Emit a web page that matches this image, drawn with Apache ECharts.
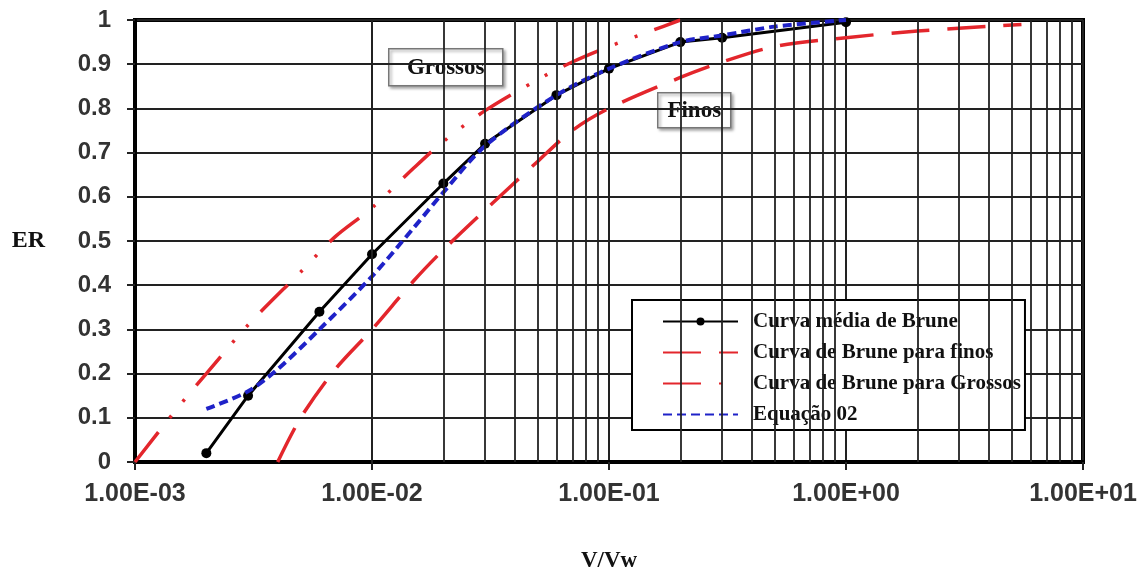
<!DOCTYPE html>
<html>
<head>
<meta charset="utf-8">
<script src="https://cdn.jsdelivr.net/npm/echarts@6/dist/echarts.min.js"></script>
<style>
  html, body { margin: 0; padding: 0; background: #fff; }
  #main { width: 1147px; height: 578px; }
</style>
</head>
<body>
<div id="main"></div>
<script>
// Curva média de Brune
const mediaX = [0.002, 0.003, 0.006, 0.01, 0.02, 0.03, 0.06, 0.1, 0.2, 0.3, 1];
const mediaY = [0.02, 0.15, 0.34, 0.47, 0.63, 0.72, 0.83, 0.89, 0.95, 0.96, 0.995];

// Curva de Brune para finos
const finosX = [0.004, 0.005, 0.007, 0.01, 0.015, 0.02, 0.03, 0.05, 0.07, 0.1, 0.2, 0.3, 0.5, 1, 2, 5.5];
const finosY = [0, 0.1, 0.21, 0.3, 0.41, 0.48, 0.57, 0.68, 0.75, 0.8, 0.87, 0.905, 0.94, 0.96, 0.975, 0.99];

// Curva de Brune para Grossos
const grossosX = [0.001, 0.0015, 0.002, 0.003, 0.005, 0.007, 0.01, 0.015, 0.02, 0.03, 0.05, 0.07, 0.1, 0.15, 0.2];
const grossosY = [0, 0.12, 0.2, 0.31, 0.43, 0.51, 0.575, 0.665, 0.725, 0.795, 0.865, 0.905, 0.94, 0.975, 1.0];

// Equação 02
const equacaoX = [0.002, 0.003, 0.004, 0.006, 0.01, 0.015, 0.02, 0.03, 0.06, 0.1, 0.2, 0.3, 0.5, 1];
const equacaoY = [0.12, 0.16, 0.21, 0.3, 0.42, 0.53, 0.61, 0.715, 0.83, 0.89, 0.95, 0.965, 0.985, 1.0];

const xMin = 0.001, xMax = 10;

function pairs(xs, ys) {
  return xs.map((x, i) => [x, ys[i]]);
}

// linhas verticais secundarias (2..9 em cada decada)
const minorLines = [];
for (let d = xMin; d < xMax; d *= 10) {
  for (let k = 2; k <= 9; k++) minorLines.push({ xAxis: +(d * k).toPrecision(3) });
}

function sciLabel(v) {
  const e = Math.round(Math.log10(v));
  const m = (v / Math.pow(10, e)).toFixed(2);
  return m + 'E' + (e < 0 ? '-' : '+') + String(Math.abs(e)).padStart(2, '0');
}

const serif = '"Liberation Serif", "DejaVu Serif", serif';
const sans = '"Liberation Sans", Arial, sans-serif';
const red = '#e3262c';
const blue = '#1f22c8';

const myChart = echarts.init(document.getElementById('main'));
const option = {
  animation: false,
  backgroundColor: '#fff',
  grid: {
    left: 135, right: 64, top: 20, bottom: 113,
    show: true, borderColor: '#000', borderWidth: 4, backgroundColor: '#fff'
  },
  legend: {
    data: [
      { name: 'Curva média de Brune' },
      { name: 'Curva de Brune para finos', itemStyle: { opacity: 0 } },
      { name: 'Curva de Brune para Grossos', itemStyle: { opacity: 0 } },
      { name: 'Equação 02', itemStyle: { opacity: 0 } }
    ],
    orient: 'vertical',
    left: 632, top: 300,
    itemWidth: 75, itemHeight: 10, itemGap: 10,
    padding: [11, 4, 5, 30],
    backgroundColor: '#fff',
    borderColor: '#000', borderWidth: 2, borderRadius: 0,
    textStyle: {
      fontFamily: serif, fontWeight: 'bold', fontSize: 21, lineHeight: 21,
      color: '#111', padding: [0, 0, 0, 10]
    }
  },
  xAxis: {
    type: 'log', logBase: 10, min: xMin, max: xMax,
    name: 'V/Vw', nameLocation: 'middle', nameGap: 88,
    nameTextStyle: { fontFamily: serif, fontWeight: 'bold', fontSize: 23, color: '#111' },
    axisLine: { show: true, lineStyle: { color: '#000', width: 4 } },
    axisTick: { show: true, length: 8, lineStyle: { color: '#222', width: 2 } },
    axisLabel: {
      formatter: sciLabel, margin: 20,
      fontFamily: sans, fontWeight: 'bold', fontSize: 25, color: '#333'
    },
    splitLine: { show: true, lineStyle: { color: '#222', width: 2 } }
  },
  yAxis: {
    type: 'value', min: 0, max: 1, interval: 0.1,
    name: 'ER', nameLocation: 'middle', nameRotate: 0, nameGap: 90,
    nameTextStyle: { fontFamily: serif, fontWeight: 'bold', fontSize: 24, color: '#111' },
    axisLine: { show: true, lineStyle: { color: '#000', width: 4 } },
    axisTick: { show: true, length: 8, lineStyle: { color: '#222', width: 2 } },
    axisLabel: {
      margin: 24,
      fontFamily: sans, fontWeight: 'bold', fontSize: 24, color: '#333'
    },
    splitLine: { show: true, lineStyle: { color: '#222', width: 2 } }
  },
  series: [
    {
      name: 'grade',
      type: 'line',
      data: [],
      silent: true,
      markLine: {
        silent: true,
        symbol: 'none',
        label: { show: false },
        lineStyle: { color: '#222', width: 1.8, type: 'solid' },
        data: minorLines
      }
    },
    {
      name: 'Curva média de Brune',
      type: 'line',
      data: pairs(mediaX, mediaY),
      symbol: 'circle', symbolSize: 10,
      itemStyle: { color: '#000' },
      lineStyle: { color: '#000', width: 3 },
      z: 3
    },
    {
      name: 'Curva de Brune para finos',
      type: 'line',
      data: pairs(finosX, finosY),
      smooth: 0.3,
      symbol: 'none',
      itemStyle: { color: red },
      lineStyle: { color: red, width: 3.5, type: [38, 18] },
      z: 3
    },
    {
      name: 'Curva de Brune para Grossos',
      type: 'line',
      data: pairs(grossosX, grossosY),
      smooth: 0.3,
      symbol: 'none',
      itemStyle: { color: red },
      lineStyle: { color: red, width: 3.5, type: [38, 18, 3, 18, 3, 18] },
      z: 3
    },
    {
      name: 'Equação 02',
      type: 'line',
      data: pairs(equacaoX, equacaoY),
      smooth: 0.3,
      symbol: 'none',
      itemStyle: { color: blue },
      lineStyle: { color: blue, width: 4, type: [9, 5] },
      z: 4
    }
  ],
  graphic: [
    {
      type: 'group', left: 388, top: 48, z: 100,
      children: [
        { type: 'rect', shape: { x: 0, y: 0, width: 114, height: 37 },
          style: { fill: '#fff', stroke: '#777', lineWidth: 1.5,
                   shadowBlur: 3, shadowOffsetX: 2, shadowOffsetY: 2, shadowColor: 'rgba(0,0,0,0.35)' } },
        { type: 'text', x: 57, y: 19,
          style: { text: 'Grossos', align: 'center', verticalAlign: 'middle',
                   font: 'bold 23px ' + serif, fill: '#111' } }
      ]
    },
    {
      type: 'group', left: 657, top: 92, z: 100,
      children: [
        { type: 'rect', shape: { x: 0, y: 0, width: 73, height: 35 },
          style: { fill: '#fff', stroke: '#777', lineWidth: 1.5,
                   shadowBlur: 3, shadowOffsetX: 2, shadowOffsetY: 2, shadowColor: 'rgba(0,0,0,0.35)' } },
        { type: 'text', x: 36.5, y: 18,
          style: { text: 'Finos', align: 'center', verticalAlign: 'middle',
                   font: 'bold 23px ' + serif, fill: '#111' } }
      ]
    }
  ]
};
myChart.setOption(option);
</script>
</body>
</html>
